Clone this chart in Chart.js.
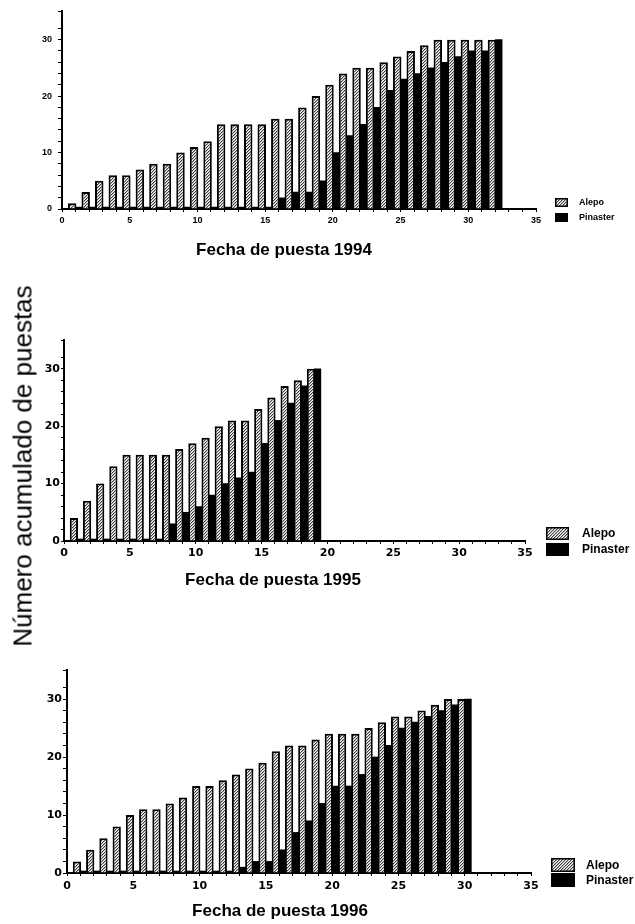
<!DOCTYPE html>
<html lang="es">
<head>
<meta charset="utf-8">
<title>Número acumulado de puestas</title>
<script src="https://cdn.jsdelivr.net/npm/chart.js@4.4.1/dist/chart.umd.min.js"></script>
<style>
  html, body { margin: 0; padding: 0; background: #fff; }
  #wrap { position: relative; width: 635px; height: 924px; overflow: hidden; }
  canvas { position: absolute; left: 0; }
  #ytitle {
    position: absolute; left: 23px; top: 466px;
    transform: translate(-50%, -50%) rotate(-90deg);
    white-space: nowrap; line-height: 1;
    font: 26px "Liberation Sans", Arial, Helvetica, sans-serif; color: #000;
  }
</style>
</head>
<body>
<div id="wrap">
  <canvas id="c1994" width="635" height="270" style="top:0px"></canvas>
  <canvas id="c1995" width="635" height="300" style="top:300px"></canvas>
  <canvas id="c1996" width="635" height="294" style="top:630px"></canvas>
  <div id="ytitle">Número acumulado de puestas</div>
</div>
<script>
// Cumulative number of egg-layings per laying date, Aleppo vs. maritime pine.
const seriesLabels = ['Alepo', 'Pinaster'];

const days1994     = [1,2,3,4,5,6,7,8,9,10,11,12,13,14,15,16,17,18,19,20,21,22,23,24,25,26,27,28,29,30,31,32];
const alepo1994    = [1,3,5,6,6,7,8,8,10,11,12,15,15,15,15,16,16,18,20,22,24,25,25,26,27,28,29,30,30,30,30,30];
const pinaster1994 = [0,0,0,0,0,0,0,0,0,0,0,0,0,0,0,2,3,3,5,10,13,15,18,21,23,24,25,26,27,28,28,30];

const days1995     = [1,2,3,4,5,6,7,8,9,10,11,12,13,14,15,16,17,18,19];
const alepo1995    = [4,7,10,13,15,15,15,15,16,17,18,20,21,21,23,25,27,28,30];
const pinaster1995 = [0,0,0,0,0,0,0,3,5,6,8,10,11,12,17,21,24,27,30];

const days1996     = [1,2,3,4,5,6,7,8,9,10,11,12,13,14,15,16,17,18,19,20,21,22,23,24,25,26,27,28,29,30];
const alepo1996    = [2,4,6,8,10,11,11,12,13,15,15,16,17,18,19,21,22,22,23,24,24,24,25,26,27,27,28,29,30,30];
const pinaster1996 = [0,0,0,0,0,0,0,0,0,0,0,0,1,2,2,4,7,9,12,15,15,17,20,22,25,26,27,28,29,30];

const xTickLabels = [0, 5, 10, 15, 20, 25, 30, 35];
const yTickLabels = [0, 10, 20, 30];

// Fine diagonal hatch used for the Alepo bars
function makeHatch() {
  const t = document.createElement('canvas');
  t.width = 3; t.height = 3;
  const g = t.getContext('2d');
  g.fillStyle = '#fff';
  g.fillRect(0, 0, 3, 3);
  g.fillStyle = '#3a3a3a';
  for (let i = 0; i < 3; i++) g.fillRect(2 - i, i, 1, 1);
  g.fillStyle = '#b4b4b4';
  for (let i = 0; i < 3; i++) g.fillRect((3 - i) % 3, i, 1, 1);
  return g.createPattern(t, 'repeat');
}
const hatch = makeHatch();

// Axis caption and legend drawn next to each panel
const panelDecor = {
  id: 'panelDecor',
  afterDraw(chart, args, o) {
    const ctx = chart.ctx;
    ctx.save();
    ctx.fillStyle = '#000';
    ctx.font = o.titleFont;
    ctx.textAlign = 'center';
    ctx.textBaseline = 'middle';
    ctx.fillText(o.title, o.titleX, o.titleY);

    ctx.font = o.legendFont;
    ctx.textAlign = 'left';
    chart.data.datasets.forEach((ds, i) => {
      const y = o.legendY + i * o.legendStep;
      ctx.fillStyle = ds.backgroundColor;
      ctx.fillRect(o.legendX, y, o.boxW, o.boxH);
      ctx.strokeStyle = '#000';
      ctx.lineWidth = 1.5;
      ctx.strokeRect(o.legendX + 0.75, y + 0.75, o.boxW - 1.5, o.boxH - 1.5);
      ctx.fillStyle = '#000';
      ctx.fillText(ds.label, o.legendX + o.textGap, y + o.boxH / 2 + 0.5);
    });
    ctx.restore();
  }
};

function makePanel(id, days, alepo, pinaster, p) {
  const toPoints = vals => days.map((d, i) => ({ x: d, y: vals[i] }));
  return new Chart(document.getElementById(id), {
    type: 'bar',
    data: {
      datasets: [
        {
          label: seriesLabels[0],
          data: toPoints(alepo),
          backgroundColor: hatch,
          borderColor: '#000',
          borderWidth: { top: 2, left: 2, right: 2, bottom: 0 },
          borderSkipped: 'bottom',
          categoryPercentage: 1.0,
          barPercentage: 1.25
        },
        {
          label: seriesLabels[1],
          data: toPoints(pinaster),
          backgroundColor: '#000',
          borderColor: '#000',
          borderWidth: 0,
          minBarLength: 2,
          categoryPercentage: 1.0,
          barPercentage: 1.0
        }
      ]
    },
    plugins: [panelDecor],
    options: {
      responsive: false,
      animation: false,
      devicePixelRatio: 1,
      layout: { padding: { top: p.top, right: p.right, left: 0, bottom: 0 } },
      plugins: {
        legend: { display: false },
        tooltip: { enabled: false },
        panelDecor: p.decor
      },
      scales: {
        x: {
          type: 'linear',
          min: 0, max: 35,
          offset: false,
          afterFit: s => { s.height = p.xHeight; },
          border: { display: true, color: '#000', width: 2 },
          grid: { drawOnChartArea: false, drawTicks: true, tickLength: 3, color: '#000', lineWidth: 1, offset: false },
          ticks: {
            stepSize: 1, autoSkip: false, maxRotation: 0, minRotation: 0,
            color: '#000', font: p.tickFont, padding: p.xPad,
            callback: v => xTickLabels.includes(v) ? String(v) : ''
          }
        },
        y: {
          type: 'linear',
          min: 0, max: 35,
          afterFit: s => { s.width = p.yWidth; },
          border: { display: true, color: '#000', width: 2 },
          grid: { drawOnChartArea: false, drawTicks: true, tickLength: p.yTick, color: '#000', lineWidth: 1 },
          ticks: {
            stepSize: 2, autoSkip: false,
            color: '#000', font: p.tickFont, padding: p.yPad,
            callback: v => yTickLabels.includes(v) ? String(v) : ''
          }
        }
      }
    }
  });
}

const narrow = '"Liberation Sans Narrow", "Liberation Sans", Arial, sans-serif';
const sans = '"Liberation Sans", Arial, Helvetica, sans-serif';
const wide = '"DejaVu Sans", Verdana, sans-serif';

makePanel('c1994', days1994, alepo1994, pinaster1994, {
  top: 7, right: 99, xHeight: 61, yWidth: 62, xPad: 3, yPad: 6, yTick: 4,
  tickFont: { family: narrow, size: 9, weight: 'bold' },
  decor: {
    title: 'Fecha de puesta 1994', titleX: 284, titleY: 250,
    titleFont: 'bold 17px ' + sans,
    legendFont: 'bold 9px ' + narrow,
    legendX: 555, legendY: 198, legendStep: 15, boxW: 13, boxH: 9, textGap: 24
  }
});

makePanel('c1995', days1995, alepo1995, pinaster1995, {
  top: 40, right: 110, xHeight: 59, yWidth: 64, xPad: 3, yPad: 1, yTick: 3,
  tickFont: { family: wide, size: 11, weight: 'bold' },
  decor: {
    title: 'Fecha de puesta 1995', titleX: 273, titleY: 280,
    titleFont: 'bold 17px ' + sans,
    legendFont: 'bold 12px ' + sans,
    legendX: 546, legendY: 227, legendStep: 16, boxW: 23, boxH: 13, textGap: 36
  }
});

makePanel('c1996', days1996, alepo1996, pinaster1996, {
  top: 40, right: 104, xHeight: 51, yWidth: 67, xPad: 4, yPad: 1, yTick: 4,
  tickFont: { family: wide, size: 11, weight: 'bold' },
  decor: {
    title: 'Fecha de puesta 1996', titleX: 280, titleY: 281,
    titleFont: 'bold 17px ' + sans,
    legendFont: 'bold 12px ' + sans,
    legendX: 551, legendY: 228, legendStep: 15, boxW: 24, boxH: 14, textGap: 35
  }
});
</script>
</body>
</html>
